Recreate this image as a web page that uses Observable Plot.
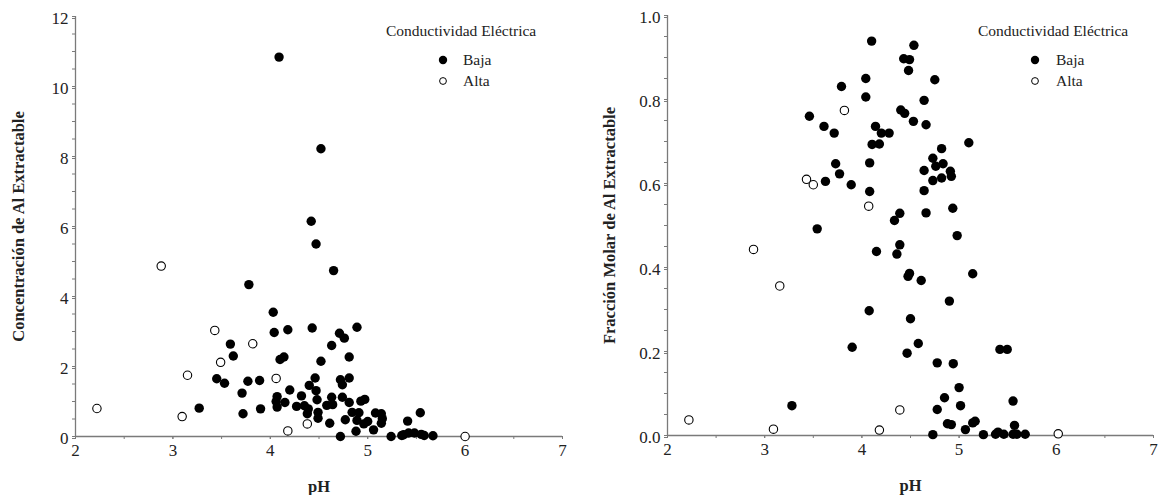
<!DOCTYPE html>
<html>
<head>
<meta charset="utf-8">
<script src="https://cdn.jsdelivr.net/npm/d3@7"></script>
<script src="https://cdn.jsdelivr.net/npm/@observablehq/plot@0.6"></script>
<style>
  html, body { margin: 0; padding: 0; background: #fff; }
  #wrap { position: relative; width: 1159px; height: 495px; font-family: "Liberation Serif", "DejaVu Serif", serif; color: #222; }
  #wrap svg, #wrap svg text { font-family: "Liberation Serif", "DejaVu Serif", serif !important; }
  .panel { position: absolute; top: 0; }
  .legend { position: absolute; font-size: 15.5px; line-height: 1; white-space: nowrap; }
  .legend .row { position: absolute; white-space: nowrap; }
  .legend svg { position: absolute; overflow: visible; }
</style>
</head>
<body>
<div id="wrap"></div>
<script>
// ---------- data ----------
const legendTitle = "Conductividad Eléctrica";
const seriesNames = ["Baja", "Alta"];
const xLabel = "pH";
const leftYLabel = "Concentración de Al Extractable";
const rightYLabel = "Fracción Molar de Al Extractable";

const xTicks = [2, 3, 4, 5, 6, 7];
const xMinorTicks = [2, 2.5, 3, 3.5, 4, 4.5, 5, 5.5, 6, 6.5, 7];
const leftYTicks = [0, 2, 4, 6, 8, 10, 12];
const leftYMinorTicks = [0,0.5,1,1.5,2,2.5,3,3.5,4,4.5,5,5.5,6,6.5,7,7.5,8,8.5,9,9.5,10,10.5,11,11.5,12];
const rightYTicks = [0, 0.2, 0.4, 0.6, 0.8, 1.0];
const rightYMinorTicks = [0,0.05,0.1,0.15,0.2,0.25,0.3,0.35,0.4,0.45,0.5,0.55,0.6,0.65,0.7,0.75,0.8,0.85,0.9,0.95,1.0];

// Left panel: [pH, Al extractable concentration]
const leftBaja = [
  [4.09,10.84],[4.52,8.22],[4.42,6.15],[4.47,5.5],[4.65,4.74],[3.78,4.34],[4.03,3.55],[4.04,2.97],
  [4.18,3.05],[3.59,2.64],[3.62,2.3],[4.10,2.2],[4.14,2.27],[3.45,1.65],[3.53,1.52],[3.77,1.58],
  [3.89,1.6],[3.71,1.24],[3.27,0.81],[3.72,0.65],[3.90,0.79],[4.07,1.14],[4.06,1.0],[4.07,0.84],
  [4.15,0.97],[4.20,1.33],[4.27,0.86],[4.32,1.16],[4.43,3.1],[4.89,3.12],[4.71,2.95],[4.76,2.81],
  [4.63,2.6],[4.52,2.15],[4.81,2.27],[4.46,1.67],[4.72,1.62],[4.81,1.67],[4.74,1.48],[4.40,1.46],
  [4.47,1.31],[4.48,1.05],[4.63,1.12],[4.74,1.12],[4.81,0.97],[4.93,1.01],[4.97,1.06],[4.35,0.88],
  [4.39,0.79],[4.38,0.65],[4.49,0.69],[4.49,0.52],[4.58,0.89],[4.64,0.91],[4.61,0.38],[4.77,0.48],
  [4.84,0.69],[4.91,0.68],[4.89,0.46],[4.88,0.15],[4.96,0.36],[5.00,0.43],[5.06,0.19],[5.08,0.67],
  [5.14,0.65],[5.15,0.51],[5.14,0.38],[4.72,0.0],[5.24,0.0],[5.35,0.03],[5.37,0.05],[5.42,0.1],
  [5.48,0.1],[5.55,0.06],[5.58,0.03],[5.67,0.02],[5.41,0.44],[5.54,0.68]
];
const leftAlta = [
  [2.22,0.8],[2.88,4.87],[3.095,0.57],[3.15,1.75],[3.43,3.03],[3.49,2.12],[3.82,2.65],
  [4.06,1.66],[4.18,0.16],[4.38,0.36],[6.0,0.0]
];

// Right panel: [pH, molar fraction of extractable Al]
const rightBaja = [
  [3.28,0.071],[3.90,0.21],[4.075,0.297],[4.15,0.438],[4.10,0.939],[4.04,0.85],[4.04,0.806],[3.79,0.831],
  [3.46,0.76],[3.61,0.736],[3.715,0.72],[4.14,0.736],[4.20,0.72],[4.105,0.693],[4.18,0.694],[3.73,0.647],
  [3.77,0.623],[3.625,0.605],[3.89,0.597],[4.08,0.649],[4.08,0.581],[3.54,0.492],[4.535,0.929],[4.43,0.897],
  [4.49,0.895],[4.48,0.869],[4.75,0.847],[4.64,0.798],[4.40,0.775],[4.44,0.767],[4.53,0.748],[4.66,0.74],
  [4.28,0.72],[5.10,0.697],[4.82,0.683],[4.73,0.66],[4.835,0.647],[4.76,0.641],[4.64,0.631],[4.91,0.629],
  [4.92,0.617],[4.82,0.613],[4.73,0.607],[4.64,0.583],[4.39,0.529],[4.335,0.512],[4.66,0.53],[4.935,0.541],
  [4.98,0.476],[4.39,0.454],[4.36,0.432],[4.49,0.386],[4.475,0.379],[4.61,0.369],[5.14,0.385],[4.90,0.32],
  [4.50,0.278],[4.58,0.219],[4.465,0.196],[5.42,0.205],[5.495,0.205],[4.775,0.173],[4.94,0.171],[5.0,0.114],
  [4.85,0.09],[4.775,0.062],[5.015,0.071],[4.88,0.028],[4.92,0.026],[5.065,0.014],[5.14,0.03],[5.165,0.034],
  [4.73,0.002],[5.25,0.002],[5.375,0.003],[5.40,0.008],[5.46,0.003],[5.555,0.082],[5.57,0.024],[5.555,0.003],
  [5.595,0.003],[5.68,0.003]
];
const rightAlta = [
  [2.22,0.037],[2.885,0.443],[3.09,0.015],[3.155,0.356],[3.43,0.61],[3.50,0.597],[3.82,0.774],
  [4.07,0.546],[4.18,0.013],[4.39,0.061],[6.02,0.004]
];

// ---------- drawing ----------
const FONT = "Liberation Serif";
const AXIS_GREY = "#7a7a7a";
const INK = "#222";

function panel({width, marginLeft, marginRight, marginTop, marginBottom, yDomain, yTicks, yMinor, yFormat, yLabel, yLabelDx, baja, alta}) {
  return Plot.plot({
    width, height: 495,
    marginLeft, marginRight, marginTop, marginBottom,
    style: {fontFamily: FONT, fontSize: "16px", color: INK, background: "white", overflow: "visible"},
    x: {domain: [2, 7], label: null},
    y: {domain: yDomain, label: null},
    marks: [
      Plot.axisX({ticks: xMinorTicks, tickSize: 3, text: null, label: null, stroke: AXIS_GREY}),
      Plot.axisX({ticks: xTicks, tickSize: 3, tickPadding: 4, tickFormat: d3.format("d"), label: null, stroke: AXIS_GREY, fill: INK, fontSize: 17, fontFamily: FONT}),
      Plot.axisY({ticks: yMinor, tickSize: 3, text: null, label: null, stroke: AXIS_GREY}),
      Plot.axisY({ticks: yTicks, tickSize: 3, tickPadding: 4, tickFormat: yFormat, label: null, stroke: AXIS_GREY, fill: INK, fontSize: 17, fontFamily: FONT, dy: 2}),
      Plot.ruleY([yDomain[0]], {stroke: AXIS_GREY, strokeWidth: 1.3}),
      Plot.ruleX([2], {stroke: AXIS_GREY, strokeWidth: 1.3}),
      Plot.dot(baja, {x: d => d[0], y: d => d[1], r: 4.7, fill: "black", stroke: "none"}),
      Plot.dot(alta, {x: d => d[0], y: d => d[1], r: 4.2, fill: "white", stroke: "black", strokeWidth: 1.1}),
      Plot.text([yLabel], {text: d => d, frameAnchor: "left", textAnchor: "middle", lineAnchor: "middle", rotate: -90, dx: yLabelDx, fontWeight: "bold", fontSize: 16.5, fontFamily: FONT, fill: INK}),
      Plot.text([xLabel], {text: d => d, frameAnchor: "bottom", lineAnchor: "middle", dy: 50, fontWeight: "bold", fontSize: 16.5, fontFamily: FONT, fill: INK})
    ]
  });
}

function legend(left, titleX, dotX, textX) {
  const lg = document.createElement("div");
  lg.className = "legend";
  lg.style.left = left + "px";
  lg.style.top = "0px";
  const rows = [
    {text: legendTitle, x: titleX, y: 23, dot: null},
    {text: seriesNames[0], x: textX, y: 52, dot: "filled"},
    {text: seriesNames[1], x: textX, y: 73, dot: "open"}
  ];
  for (const r of rows) {
    const t = document.createElement("div");
    t.className = "row";
    t.textContent = r.text;
    t.style.left = r.x + "px";
    t.style.top = r.y + "px";
    lg.appendChild(t);
    if (r.dot) {
      const ns = "http://www.w3.org/2000/svg";
      const s = document.createElementNS(ns, "svg");
      s.setAttribute("width", 10); s.setAttribute("height", 10);
      s.style.left = (dotX - 5) + "px";
      s.style.top = (r.y + 3) + "px";
      const c = document.createElementNS(ns, "circle");
      c.setAttribute("cx", 5); c.setAttribute("cy", 5);
      if (r.dot === "filled") { c.setAttribute("r", 4.2); c.setAttribute("fill", "black"); }
      else { c.setAttribute("r", 3.4); c.setAttribute("fill", "white"); c.setAttribute("stroke", "black"); c.setAttribute("stroke-width", 1); }
      s.appendChild(c);
      lg.appendChild(s);
    }
  }
  return lg;
}

const wrap = document.getElementById("wrap");

const leftDiv = document.createElement("div");
leftDiv.className = "panel"; leftDiv.style.left = "0px";
leftDiv.appendChild(panel({
  width: 580, marginLeft: 75, marginRight: 18, marginTop: 16, marginBottom: 59,
  yDomain: [0, 12], yTicks: leftYTicks, yMinor: leftYMinorTicks, yFormat: d3.format("d"),
  yLabel: leftYLabel, yLabelDx: -57, baja: leftBaja, alta: leftAlta
}));
wrap.appendChild(leftDiv);

const rightDiv = document.createElement("div");
rightDiv.className = "panel"; rightDiv.style.left = "580px";
rightDiv.appendChild(panel({
  width: 579, marginLeft: 87, marginRight: 6, marginTop: 15, marginBottom: 60,
  yDomain: [0, 1], yTicks: rightYTicks, yMinor: rightYMinorTicks, yFormat: d3.format(".1f"),
  yLabel: rightYLabel, yLabelDx: -58, baja: rightBaja, alta: rightAlta
}));
wrap.appendChild(rightDiv);

wrap.appendChild(legend(0, 386, 443, 463));
wrap.appendChild(legend(580, 398, 455, 476));
</script>
</body>
</html>
